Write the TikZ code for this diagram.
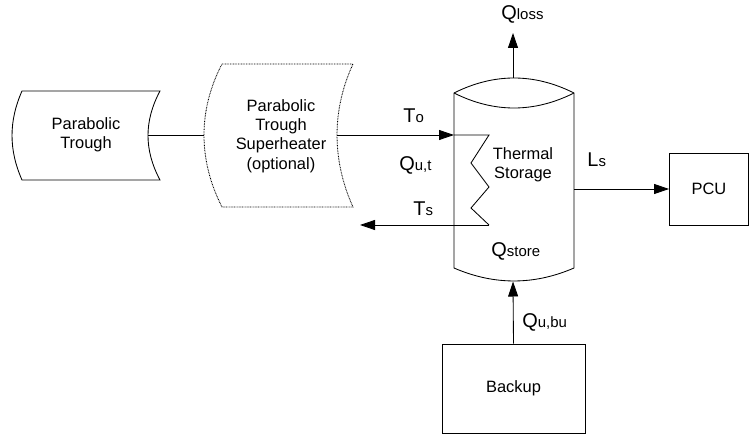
\documentclass[tikz,border=0pt]{standalone}
\usepackage{fontspec}
\setmainfont{Liberation Sans}
\usetikzlibrary{arrows.meta}
\newcommand\bodyf{\fontsize{16.5}{19.5}\selectfont}
\newcommand\qlab[2]{{\fontsize{20}{20}\selectfont #1}{\fontsize{15}{15}\selectfont #2}}
\begin{document}
\begin{tikzpicture}[x=1bp,y=-1bp,
  line width=0.85bp,
  arr/.style={-{Triangle[length=15bp,width=10bp]}},
  txt/.style={inner sep=0pt,align=center,font=\bodyf},
  lab/.style={inner sep=0pt,anchor=base west},
  box/.style={draw,rectangle,inner sep=0pt,font=\bodyf}]
\useasboundingbox (0,0) rectangle (749,435);
% Parabolic Trough (stored-data shape)
\draw (22,91) -- (160,91) .. controls (144,121) and (144,150) .. (160,180)
  -- (22,180) .. controls (8.7,150) and (8.7,121) .. (22,91) -- cycle;
\node[txt] (pt) at (86,135) {Parabolic\\Trough};
\coordinate (ptR) at (148,135);
% Superheater (dotted)
\draw[dash pattern=on 0.8bp off 0.8bp] (222,64) -- (353,64) .. controls (331.7,110) and (331.7,160) .. (353,207)
  -- (222,207) .. controls (198,160) and (198,110) .. (222,64) -- cycle;
\node[txt] (sh) at (281,136) {Parabolic\\Trough\\Superheater\\(optional)};
\coordinate (shL) at (204,135);
\coordinate (shR) at (337,135);
% Tank
\draw (454,93) .. controls (494,73) and (534,73) .. (574,93)
  -- (574,268) .. controls (534,285.3) and (494,285.3) .. (454,268) -- cycle;
\draw (454,93) .. controls (494,113) and (534,113) .. (574,93);
\node[txt] (ts) at (523,165) {Thermal\\Storage};
\coordinate (tankTop) at (513,78);
\coordinate (tankBot) at (513,281.5);
\coordinate (tankIn) at (454,135);
\coordinate (tankR) at (574,189);
\coordinate (z1) at (489,135);
\coordinate (z2) at (471,163);
\coordinate (z3) at (489,187);
\coordinate (z4) at (471,208);
\coordinate (z5) at (489,225);
\coordinate (tsEnd) at (360,225);
\coordinate (lossEnd) at (513,33);
% Boxes
\node[box,minimum width=143bp,minimum height=89bp] (bu) at (513.5,388.5) {Backup};
\node[box,minimum width=79bp,minimum height=72bp] (pcu) at (709,189) {PCU};
% Connectors
\draw (ptR) -- (shL);
\draw[arr] (shR) -- (tankIn);
\draw (tankIn) -- (z1) -- (z2) -- (z3) -- (z4) -- (z5);
\draw[arr] (z5) -- (tsEnd);
\draw[arr] (tankTop) -- (lossEnd);
\draw[arr] (tankR) -- (pcu.west);
\draw[arr] (bu.north) -- (tankBot);
% Labels
\node[lab] (lloss) at (501,20) {\qlab{Q}{loss}};
\node[lab] (lto) at (403,122.5) {\qlab{T}{o}};
\node[lab] (lqut) at (399,171) {\qlab{Q}{u,t}};
\node[lab] (lts) at (413,216) {\qlab{T}{s}};
\node[lab] (lls) at (587,167) {\qlab{L}{s}};
\node[lab] (lqs) at (491,257) {\qlab{Q}{store}};
\node[lab] (lqbu) at (522,328) {\qlab{Q}{u,bu}};
\end{tikzpicture}
\end{document}
